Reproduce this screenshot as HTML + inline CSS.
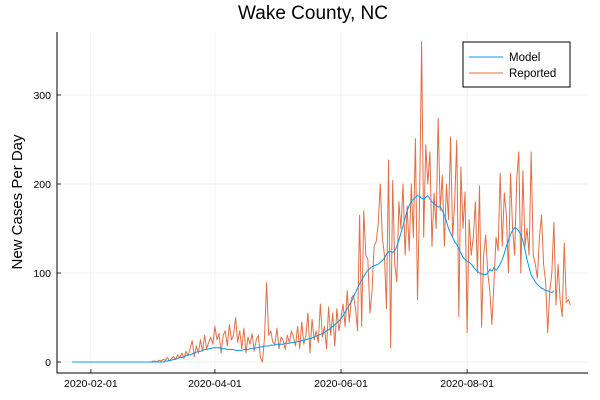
<!DOCTYPE html>
<html><head><meta charset="utf-8"><style>
html,body{margin:0;padding:0;background:#fff;}
svg{display:block;font-family:"Liberation Sans","DejaVu Sans",sans-serif;}
</style></head><body>
<svg id="chart" width="600" height="400" viewBox="0 0 600 400" xmlns="http://www.w3.org/2000/svg">
<rect width="600" height="400" fill="#fff"/>
<text x="313" y="19" font-size="19" text-anchor="middle" fill="#000">Wake County, NC</text>
<text transform="translate(22,202) rotate(-90)" font-size="15" text-anchor="middle" fill="#000">New Cases Per Day</text>
<g id="grid"></g>
<g id="series"></g>
<g id="axes"></g>
<g>
<rect x="463" y="42" width="107" height="45" fill="#fff" stroke="#000" stroke-width="1"/>
<line x1="469" y1="57" x2="503" y2="57" stroke="#009af9" stroke-width="1"/>
<text x="509" y="61" font-size="11.5">Model</text>
<line x1="469" y1="73" x2="503" y2="73" stroke="#e26f46" stroke-width="1"/>
<text x="509" y="77" font-size="11.5">Reported</text>
</g>
</svg>
<script>
const xTickLabels = ["2020-02-01","2020-04-01","2020-06-01","2020-08-01"];
const xTickDays = [9, 69, 130, 191];
const yTicks = [0, 100, 200, 300];
const reported = [
0,0,0,0,0,0,0,0,0,0, 0,0,0,0,0,0,0,0,0,0, 0,0,0,0,0,0,0,0,0,0, 0,0,0,0,0,0,0,0,
0,1,1,0,2,1,3,2,5,1,
4,6,3,8,5,10,4,12,7,15,
24,6,18,10,25,12,30,15,22,28,
20,40,25,32,10,30,35,18,42,25,
30,50,22,35,15,38,10,28,20,32,
12,25,30,5,0,28,89,30,35,22,
20,38,15,28,25,14,30,22,35,28,
18,40,15,45,20,30,55,10,48,25,
35,22,65,28,40,15,62,30,55,18,
60,35,50,65,40,80,45,72,75,60,
35,165,40,170,120,115,55,80,130,135,
155,200,140,120,60,227,16,204,110,90,
180,150,200,120,175,125,200,140,251,70,
180,360,140,244,200,236,130,190,150,274,
170,210,130,200,160,253,140,180,249,51,
219,150,191,33,160,120,140,180,100,198,
39,120,143,100,80,42,90,140,125,212,
130,190,165,100,212,150,120,205,236,100,
215,130,150,120,236,120,110,94,140,165,
110,90,33,80,100,157,64,110,70,51,
134,67,70,64
];
const model = [
0,0,0,0,0,0,0,0,0,0, 0,0,0,0,0,0,0,0,0,0, 0,0,0,0,0,0,0,0,0,0, 0,0,0,0,0,0,0,0,0,0, 0,0,0,0,0,
1,1,2,2,3,3,4,5,5,6,7,8,8,9,10,11,12,12,13,14,14,15,15,16,16,
16,16,15,15,15,14,14,14,14,13,13,13,13,14,14,14,15,15,15,16,
16,17,17,18,18,18,19,19,19,20,20,20,20,21,21,21,22,22,22,23,
23,24,24,25,26,26,27,28,29,30,31,32,33,35,36,38,40,42,44,46,
49,52,56,60,64,68,73,78,83,88,92,96,100,103,105,107,108,109,110,112,
114,117,121,124,124,123,125,130,137,145,153,162,170,176,180,183,185,187,186,184,
183,185,187,183,180,178,176,174,175,170,165,158,150,145,140,135,132,128,122,118,
115,113,112,110,107,104,102,100,99,98,98,100,104,102,106,103,106,110,115,122,
130,137,143,148,151,150,147,143,136,126,115,106,98,94,90,87,85,83,82,80,
80,79,78,80
];
const NS = "http://www.w3.org/2000/svg";
const L = 57, R = 588, T = 32, B = 373;
function xScale(d){ return 72.3 + d * 2.067; }
function yScale(v){ return 362 - v * 0.89; }
function mk(tag, attrs, parent){
  const e = document.createElementNS(NS, tag);
  for (const k in attrs) e.setAttribute(k, attrs[k]);
  parent.appendChild(e); return e;
}
const grid = document.getElementById('grid');
const axes = document.getElementById('axes');
const series = document.getElementById('series');
xTickDays.forEach((d, i) => {
  const x = xScale(d);
  const g = mk('line', {x1:x, x2:x, y1:T, y2:B, stroke:'#000', 'stroke-opacity':0.1, 'stroke-width':0.6}, grid);
  
  
  const t = mk('line', {x1:x, x2:x, y1:B, y2:B-4, stroke:'#000', 'stroke-width':0.8}, axes);
  
  
  const lb = mk('text', {x:x, y:B+14, 'font-size':10.5, 'text-anchor':'middle'}, axes);
  lb.textContent = xTickLabels[i];
  
  
});
yTicks.forEach(v => {
  const y = yScale(v);
  const g = mk('line', {x1:L, x2:R, y1:y, y2:y, stroke:'#000', 'stroke-opacity':0.1, 'stroke-width':0.6}, grid);
  
  
  const t = mk('line', {x1:L, x2:L+4, y1:y, y2:y, stroke:'#000', 'stroke-width':0.8}, axes);
  
  
  const lb = mk('text', {x:L-6, y:y+4, 'font-size':10.5, 'text-anchor':'end'}, axes);
  lb.textContent = String(v);
  
  
});
const ax = mk('path', {d:`M${L},${T} L${L},${B} L${R},${B}`, fill:'none', stroke:'#000', 'stroke-width':1}, axes);


function linePath(arr){ return arr.map((v,i)=>(i?'L':'M')+xScale(i).toFixed(2)+','+yScale(v).toFixed(2)).join(' '); }
const rp = mk('path', {d:linePath(reported), fill:'none', stroke:'#e26f46', 'stroke-width':1, 'stroke-linejoin':'round'}, series);


const mp = mk('path', {d:linePath(model), fill:'none', stroke:'#009af9', 'stroke-width':1, 'stroke-linejoin':'round'}, series);


</script>
</body></html>
